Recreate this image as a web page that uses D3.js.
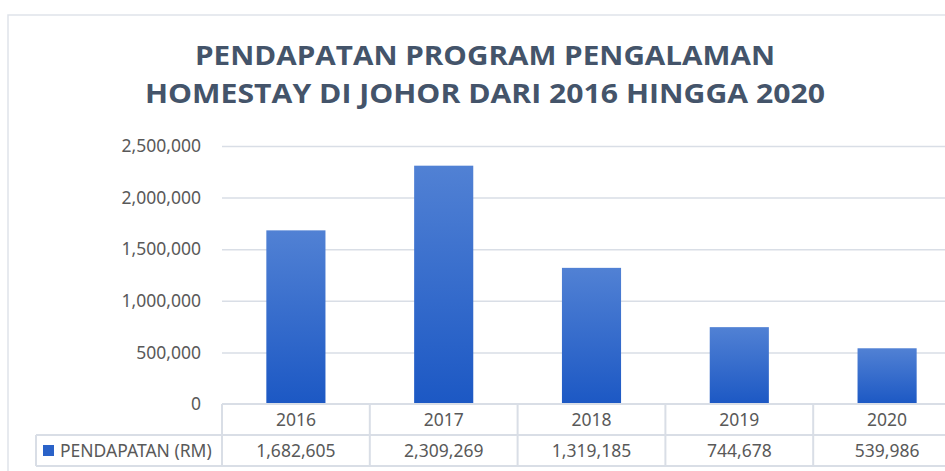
<!DOCTYPE html>
<html>
<head>
<meta charset="utf-8">
<script src="https://cdn.jsdelivr.net/npm/d3@7"></script>
<style>
  body { margin: 0; background: #fff; }
  svg { display: block; font-family: "Noto Sans", "Open Sans", sans-serif; }
</style>
</head>
<body>
<svg width="945" height="471"></svg>
<script>
const titleLines = ["PENDAPATAN PROGRAM PENGALAMAN", "HOMESTAY DI JOHOR DARI 2016 HINGGA 2020"];
const years = ["2016", "2017", "2018", "2019", "2020"];
const pendapatan = [1682605, 2309269, 1319185, 744678, 539986];
const yTicks = [0, 500000, 1000000, 1500000, 2000000, 2500000];
const seriesName = "PENDAPATAN (RM)";

const svg = d3.select("svg");
const plot = { left: 222, right: 961, top: 146, bottom: 404 };
const rowH = 31;
const labelColLeft = 36;
const lineColor = "#d9dee6";
const textColor = "#595959";
const fs = 17.5;
const fmt = d3.format(",");

// chart frame
svg.append("path")
  .attr("d", "M8,471 V15 H945")
  .attr("fill", "none")
  .attr("stroke", "#dfe3ea")
  .attr("stroke-width", 1.5);

// title
svg.selectAll(".title")
  .data(titleLines)
  .enter()
  .append("text")
  .attr("class", "title")
  .attr("x", 485)
  .attr("y", (d, i) => 65 + i * 38)
  .attr("text-anchor", "middle")
  .attr("font-family", "'Open Sans', sans-serif")
  .attr("font-weight", "bold")
  .attr("font-size", 26.5)
  .attr("fill", "#44546a")
  .attr("textLength", (d, i) => i === 0 ? 580 : 680)
  .attr("lengthAdjust", "spacingAndGlyphs")
  .text(d => d);

const x = d3.scaleBand()
  .domain(years)
  .range([plot.left, plot.right])
  .paddingInner(0)
  .paddingOuter(0);

const y = d3.scaleLinear()
  .domain([0, 2500000])
  .range([plot.bottom, plot.top]);

// gridlines
svg.append("g")
  .attr("transform", `translate(${plot.left},0)`)
  .call(d3.axisLeft(y).tickValues(yTicks.slice(1)).tickSize(-(plot.right - plot.left)).tickFormat(""))
  .call(g => g.select(".domain").remove())
  .call(g => g.selectAll("line").attr("stroke", lineColor).attr("stroke-width", 1.5));

// y axis labels
svg.append("g")
  .attr("transform", `translate(${plot.left - 18},0)`)
  .call(d3.axisLeft(y).tickValues(yTicks).tickSize(0).tickFormat(fmt))
  .call(g => g.select(".domain").remove())
  .call(g => g.selectAll("text")
    .attr("font-family", "'Noto Sans', sans-serif")
    .attr("font-size", fs)
    .attr("fill", textColor)
    .attr("dy", "0.32em"));

// bars
const grad = svg.append("defs").append("linearGradient")
  .attr("id", "barGrad")
  .attr("x1", 0).attr("y1", 0).attr("x2", 0).attr("y2", 1);
grad.append("stop").attr("offset", "0%").attr("stop-color", "#5181d4");
grad.append("stop").attr("offset", "100%").attr("stop-color", "#1c58c4");

const barW = x.bandwidth() * 0.4;
svg.selectAll(".bar")
  .data(years)
  .enter()
  .append("rect")
  .attr("class", "bar")
  .attr("x", d => x(d) + (x.bandwidth() - barW) / 2)
  .attr("y", (d, i) => y(pendapatan[i]))
  .attr("width", barW)
  .attr("height", (d, i) => y(0) - y(pendapatan[i]))
  .attr("fill", "url(#barGrad)");

// data table
const table = svg.append("g").attr("stroke", lineColor).attr("stroke-width", 2).attr("fill", "none");
table.append("line").attr("x1", plot.left).attr("x2", plot.right).attr("y1", plot.bottom).attr("y2", plot.bottom);
table.append("line").attr("x1", labelColLeft).attr("x2", plot.right).attr("y1", plot.bottom + rowH).attr("y2", plot.bottom + rowH);
table.append("line").attr("x1", labelColLeft).attr("x2", plot.right).attr("y1", plot.bottom + 2 * rowH).attr("y2", plot.bottom + 2 * rowH);
table.append("line").attr("x1", labelColLeft).attr("x2", labelColLeft).attr("y1", plot.bottom + rowH).attr("y2", plot.bottom + 2 * rowH);
table.selectAll(".vline")
  .data(years.concat(["end"]))
  .enter()
  .append("line")
  .attr("x1", d => d === "end" ? plot.right : x(d))
  .attr("x2", d => d === "end" ? plot.right : x(d))
  .attr("y1", plot.bottom)
  .attr("y2", plot.bottom + 2 * rowH);

const cellText = svg.append("g")
  .attr("font-family", "'Noto Sans', sans-serif")
  .attr("font-size", fs)
  .attr("fill", textColor)
  .attr("text-anchor", "middle");

cellText.selectAll(".year")
  .data(years)
  .enter()
  .append("text")
  .attr("x", d => x(d) + x.bandwidth() / 2)
  .attr("y", plot.bottom + rowH / 2)
  .attr("dy", "0.35em")
  .text(d => d);

cellText.selectAll(".val")
  .data(years)
  .enter()
  .append("text")
  .attr("x", d => x(d) + x.bandwidth() / 2)
  .attr("y", plot.bottom + rowH * 1.5)
  .attr("dy", "0.35em")
  .text((d, i) => fmt(pendapatan[i]));

// legend key in table
svg.append("rect")
  .attr("x", 43).attr("y", 445)
  .attr("width", 11).attr("height", 11)
  .attr("fill", "#2a62c8");

svg.append("text")
  .attr("x", 60)
  .attr("y", plot.bottom + rowH * 1.5)
  .attr("dy", "0.35em")
  .attr("font-family", "'Noto Sans', sans-serif")
  .attr("font-size", fs)
  .attr("fill", textColor)
  .text(seriesName);
</script>
</body>
</html>
